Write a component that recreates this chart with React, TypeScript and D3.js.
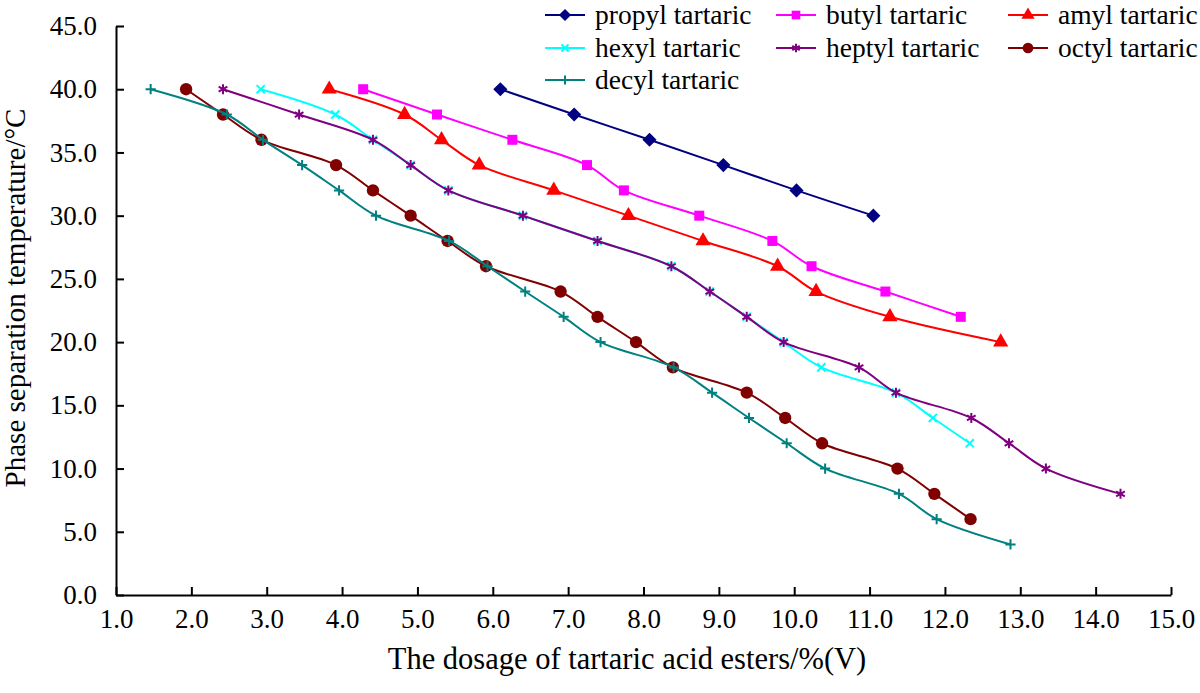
import { useEffect, useRef } from 'react'
import * as d3 from 'd3'

// names of the esters, in drawing order
const seriesNames = [
  'propyl tartaric',
  'butyl tartaric',
  'amyl tartaric',
  'hexyl tartaric',
  'heptyl tartaric',
  'octyl tartaric',
  'decyl tartaric',
]

// dosage (%V)
const propylX = [6.1, 7.08, 8.08, 9.06, 10.03, 11.05]
const propylY = [40, 38, 36, 34, 32, 30]

const butylX = [4.28, 5.26, 6.26, 7.25, 7.74, 8.74, 9.71, 10.23, 11.21, 12.21]
const butylY = [40, 38, 36, 34, 32, 30, 28, 26, 24, 22]

const amylX = [3.83, 4.83, 5.32, 5.82, 6.81, 7.8, 8.79, 9.78, 10.29, 11.27, 12.74]
const amylY = [40, 38, 36, 34, 32, 30, 28, 26, 24, 22, 20]

const hexylX = [2.92, 3.91, 4.41, 4.91, 5.41, 6.4, 7.39, 8.37, 8.88, 9.37, 9.86, 10.36, 11.35, 11.84, 12.33]
const hexylY = [40, 38, 36, 34, 32, 30, 28, 26, 24, 22, 20, 18, 16, 14, 12]

const heptylX = [2.42, 3.43, 4.41, 4.91, 5.41, 6.4, 7.39, 8.37, 8.88, 9.37, 9.86, 10.86, 11.35, 12.35, 12.85, 13.34, 14.33]
const heptylY = [40, 38, 36, 34, 32, 30, 28, 26, 24, 22, 20, 18, 16, 14, 12, 10, 8]

const octylX = [1.93, 2.42, 2.93, 3.92, 4.41, 4.91, 5.4, 5.91, 6.9, 7.39, 7.9, 8.39, 9.37, 9.88, 10.37, 11.37, 11.86, 12.34]
const octylY = [40, 38, 36, 34, 32, 30, 28, 26, 24, 22, 20, 18, 16, 14, 12, 10, 8, 6]

const decylX = [1.46, 2.47, 2.95, 3.47, 3.96, 4.45, 5.42, 5.93, 6.43, 6.94, 7.43, 8.4, 8.91, 9.4, 9.9, 10.41, 11.39, 11.89, 12.87]
const decylY = [40, 38, 36, 34, 32, 30, 28, 26, 24, 22, 20, 18, 16, 14, 12, 10, 8, 6, 4]

const xTicks = d3.range(1, 15.01, 1)
const yTicks = d3.range(0, 45.01, 5)

const FONT = '"Liberation Serif", "Times New Roman", serif'

type Marker = { type: d3.SymbolType; size: number; filled: boolean; rotate?: number }

const colors = ['#000080', '#FF00FF', '#FF0000', '#00FFFF', '#800080', '#800000', '#008080']
const markers: Marker[] = [
  { type: d3.symbolSquare, size: 100, filled: true, rotate: 45 }, // diamond
  { type: d3.symbolSquare, size: 100, filled: true },
  { type: d3.symbolTriangle, size: 100, filled: true },
  { type: d3.symbolX, size: 45, filled: false },
  { type: d3.symbolAsterisk, size: 70, filled: false },
  { type: d3.symbolCircle, size: 120, filled: true },
  { type: d3.symbolPlus, size: 36, filled: false },
]

export default function App() {
  const svgRef = useRef<SVGSVGElement>(null)

  useEffect(() => {
    const width = 1200
    const height = 693
    const svg = d3.select(svgRef.current)
    svg.selectAll('*').remove()
    svg.attr('width', width).attr('height', height)

    const x = d3.scaleLinear().domain([1, 15]).range([116, 1171])
    const y = d3.scaleLinear().domain([0, 45]).range([595, 26])

    const xs = [propylX, butylX, amylX, hexylX, heptylX, octylX, decylX]
    const ys = [propylY, butylY, amylY, hexylY, heptylY, octylY, decylY]
    const series = seriesNames.map((name, i) => ({
      name,
      color: colors[i],
      marker: markers[i],
      points: xs[i].map((v, j) => [v, ys[i][j]] as [number, number]),
    }))

    // axes
    const yAxis = d3.axisLeft(y)
      .tickValues(yTicks)
      .tickFormat(d3.format('.1f'))
      .tickSizeInner(-8)
      .tickSizeOuter(0)
      .tickPadding(19)
    const gy = svg.append('g').attr('transform', `translate(${x(1)},0)`).call(yAxis)

    const xAxis = d3.axisBottom(x)
      .tickValues(xTicks)
      .tickFormat(d3.format('.1f'))
      .tickSizeInner(-8)
      .tickSizeOuter(0)
      .tickPadding(14)
    const gx = svg.append('g').attr('transform', `translate(0,${y(0)})`).call(xAxis)

    ;[gx, gy].forEach(g => {
      g.attr('font-family', FONT)
      g.select('.domain').attr('stroke', '#000').attr('stroke-width', 2)
      g.selectAll('.tick line').attr('stroke', '#000').attr('stroke-width', 2)
      g.selectAll('.tick text')
        .attr('fill', '#000')
        .style('font-family', FONT)
        .style('font-size', '27px')
    })

    // axis titles
    svg.append('text')
      .attr('x', 627)
      .attr('y', 669)
      .attr('text-anchor', 'middle')
      .style('font-family', FONT)
      .style('font-size', '30.5px')
      .text('The dosage of tartaric acid esters/%(V)')

    svg.append('text')
      .attr('transform', 'translate(25,298) rotate(-90)')
      .attr('text-anchor', 'middle')
      .style('font-family', FONT)
      .style('font-size', '29px')
      .text('Phase separation temperature/°C')

    // lines
    const line = d3.line<[number, number]>()
      .x(d => x(d[0]))
      .y(d => y(d[1]))
      .curve(d3.curveCatmullRom.alpha(0.5))

    const symbolPath = (m: Marker, scale = 1) => d3.symbol().type(m.type).size(m.size * scale)()
    const rot = (m: Marker) => (m.rotate ? ` rotate(${m.rotate})` : '')

    series.forEach(s => {
      const g = svg.append('g')
      g.append('path')
        .attr('d', line(s.points))
        .attr('fill', 'none')
        .attr('stroke', s.color)
        .attr('stroke-width', 2)

      g.selectAll('path.mk')
        .data(s.points)
        .enter()
        .append('path')
        .attr('class', 'mk')
        .attr('transform', d => `translate(${x(d[0])},${y(d[1])})${rot(s.marker)}`)
        .attr('d', symbolPath(s.marker))
        .attr('fill', s.marker.filled ? s.color : 'none')
        .attr('stroke', s.color)
        .attr('stroke-width', s.marker.filled ? 0 : 2)
    })

    // legend, 3 columns
    const colX = [545, 776, 1008]
    const rowY = [15, 48, 80]
    const legend = svg.append('g')
    series.forEach((s, i) => {
      const cx = colX[i % 3]
      const cy = rowY[Math.floor(i / 3)]
      const item = legend.append('g').attr('transform', `translate(${cx},${cy})`)
      item.append('line')
        .attr('x1', 0)
        .attr('x2', 40)
        .attr('stroke', s.color)
        .attr('stroke-width', 2)
      item.append('path')
        .attr('transform', `translate(20,0)${rot(s.marker)}`)
        .attr('d', symbolPath(s.marker, 0.75))
        .attr('fill', s.marker.filled ? s.color : 'none')
        .attr('stroke', s.color)
        .attr('stroke-width', s.marker.filled ? 0 : 2)
      item.append('text')
        .attr('x', 50)
        .attr('dy', '0.32em')
        .style('font-family', FONT)
        .style('font-size', '27.5px')
        .text(s.name)
    })
  }, [])

  return (
    <div style={{ position: 'absolute', left: 0, top: 0, width: 1200, height: 693, background: '#fff' }}>
      <svg ref={svgRef} style={{ display: 'block' }}></svg>
    </div>
  )
}
